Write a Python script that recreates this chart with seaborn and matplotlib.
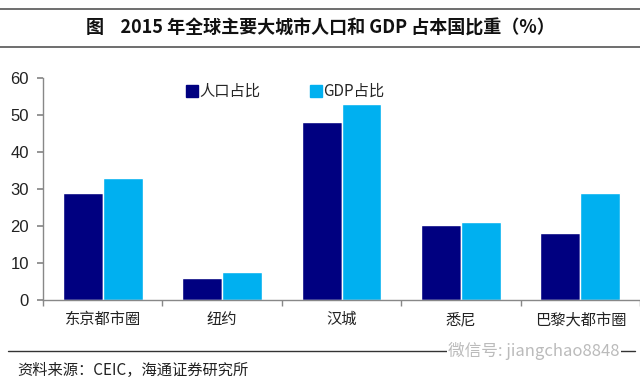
import matplotlib
matplotlib.use("Agg")
import matplotlib.pyplot as plt
import seaborn as sns
import pandas as pd
from matplotlib.lines import Line2D
from matplotlib.ticker import FixedLocator

categories = ["东京都市圈", "纽约", "汉城", "悉尼", "巴黎大都市圈"]
pop_share = [29, 6, 48, 20.3, 18]
gdp_share = [33, 7.6, 53, 21, 29]
series_names = ["人口占比", "GDP占比"]
y_ticks = [0, 10, 20, 30, 40, 50, 60]

sns.set_theme(style="white")
plt.rcParams['font.family'] = ['Noto Sans CJK SC', 'DejaVu Sans']

df = pd.DataFrame({
    "city": categories * 2,
    "value": pop_share + gdp_share,
    "series": [series_names[0]] * len(categories) + [series_names[1]] * len(categories),
})

W, H = 640, 382
fig = plt.figure(figsize=(W / 100, H / 100), dpi=100)
ax = fig.add_axes([43 / W, 1 - 300 / H, 597 / W, (300 - 78) / H])
colors = ["#000080", "#00B0F0"]
sns.barplot(data=df, x="city", y="value", hue="series", palette=colors,
            width=0.67, saturation=1, ax=ax, legend=False)

ax.set_xlim(-0.5, 4.5)
ax.set_ylim(0, 60)
ax.set_yticks(y_ticks)
ax.set_yticklabels([str(t) for t in y_ticks], fontsize=12, family=['Liberation Sans'])
ax.set_xlabel("")
ax.set_ylabel("")
ax.tick_params(axis='x', which='major', length=0, labelsize=11, pad=8, colors="#222222")
ax.xaxis.set_minor_locator(FixedLocator([-0.5, 0.5, 1.5, 2.5, 3.5, 4.5]))
ax.tick_params(axis='x', which='minor', length=4, color="#888888", direction='out', bottom=True)
ax.tick_params(axis='y', length=4, color="#888888", direction='out', left=True, pad=6,
               labelcolor="#222222")
for s in ["top", "right"]:
    ax.spines[s].set_visible(False)
for s in ["left", "bottom"]:
    ax.spines[s].set_color("#888888")
    ax.spines[s].set_linewidth(1)

handles = [Line2D([0], [0], marker='s', linestyle='', markersize=8,
                  markerfacecolor=c, markeredgecolor=c) for c in colors]
leg = ax.legend(handles, series_names, ncol=2, frameon=False, loc='upper left',
                bbox_to_anchor=((172 - 43) / 597, 1.04), handletextpad=0.1,
                columnspacing=3.2, fontsize=11, handlelength=0.8)

# title block
fig.add_artist(Line2D([0, 1], [1 - 9 / H, 1 - 9 / H], color="#555555", lw=1.2))
fig.add_artist(Line2D([0, 1], [1 - 47 / H, 1 - 47 / H], color="#555555", lw=1.2))
fig.text(0.5, 1 - 28 / H, "图    2015 年全球主要大城市人口和 GDP 占本国比重（%）",
         ha='center', va='center', fontsize=13, fontweight='bold', color="#111111")

# source block
fig.add_artist(Line2D([8 / W, 635 / W], [1 - 351 / H, 1 - 351 / H], color="#333333", lw=1))
fig.text(17 / W, 1 - 370 / H, "资料来源：CEIC，海通证券研究所", ha='left', va='center',
         fontsize=11, color="#222222")
fig.text(620 / W, 1 - 351 / H, "微信号: jiangchao8848", ha='right', va='center',
         fontsize=12, color="#BBBBBB",
         bbox=dict(facecolor='white', edgecolor='none', pad=1))

fig.savefig("out.png", dpi=100)
